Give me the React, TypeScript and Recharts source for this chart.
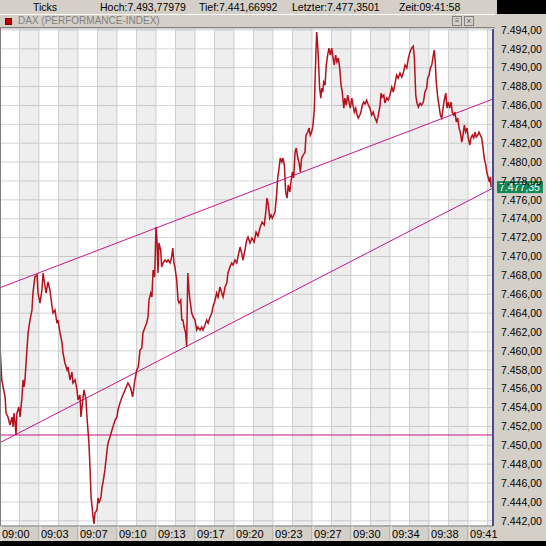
import { CartesianGrid, Line, LineChart, ReferenceArea, ReferenceLine, XAxis, YAxis } from 'recharts';

// tick times in seconds after 09:00:00
const tickSeconds = [
  0, 9, 26, 31, 41, 51, 62, 67, 72, 77, 82, 87, 97, 103, 113, 118, 123, 128, 138, 144,
  154, 164, 169, 179, 190, 195, 205, 215, 221, 226, 236, 246, 256, 267, 272, 282, 292, 297, 308, 318,
  323, 333, 344, 349, 359, 369, 374, 385, 395, 400, 410, 415, 426, 431, 441, 446, 456, 462, 467, 477,
  482, 487, 497, 503, 508, 518, 523, 528, 538, 549, 554, 564, 574, 579, 590, 600, 605, 615, 626, 641,
  656, 670, 680, 692, 701, 709, 718, 727, 733, 744, 752, 759, 764, 773, 779, 785, 793, 800, 805, 810,
  815, 824, 829, 836, 846, 855, 862, 872, 880, 886, 892, 897, 906, 913, 918, 927, 932, 938, 944, 952,
  957, 963, 969, 974, 983, 990, 1000, 1009, 1015, 1026, 1034, 1041, 1051, 1060, 1067, 1077, 1086, 1092, 1103, 1111,
  1118, 1128, 1137, 1144, 1154, 1163, 1169, 1179, 1188, 1195, 1205, 1214, 1220, 1231, 1239, 1246, 1256, 1265, 1272, 1282,
  1292, 1303, 1313, 1323, 1333, 1344, 1355, 1363, 1369, 1376, 1383, 1390, 1396, 1404, 1410, 1417, 1424, 1431, 1437, 1445,
  1451, 1458, 1465, 1472, 1478, 1486, 1492, 1499, 1506, 1513, 1519, 1527, 1533, 1540, 1547, 1555, 1564, 1569, 1578, 1585,
  1591, 1598, 1605, 1612, 1615, 1620, 1624, 1629, 1634, 1639, 1645, 1650, 1655, 1660, 1667, 1673, 1680, 1687, 1694, 1701,
  1708, 1714, 1721, 1728, 1735, 1742, 1749, 1755, 1763, 1769, 1776, 1783, 1790, 1796, 1804, 1810, 1817, 1824, 1831, 1837,
  1845, 1851, 1858, 1865, 1872, 1880, 1889, 1897, 1906, 1914, 1923, 1932, 1940, 1949, 1954, 1960, 1968, 1974, 1983, 1991,
  2000, 2009, 2017, 2026, 2034, 2042, 2051, 2060, 2068, 2077, 2086, 2094, 2102, 2111, 2119, 2125, 2128, 2132, 2137, 2145,
  2154, 2162, 2171, 2179, 2188, 2193, 2200, 2207, 2214, 2222, 2227, 2232, 2237, 2245, 2251, 2258, 2265, 2272, 2278, 2286,
  2292, 2299, 2306, 2313, 2319, 2327, 2333, 2340, 2347, 2354, 2360, 2368, 2374, 2381, 2388, 2395, 2401, 2409, 2415, 2422,
  2429, 2436, 2442, 2450, 2456, 2463, 2470, 2477, 2483, 2491, 2497, 2504, 2510, 2515, 2518,
];

const tickPrices = [
  7460.62, 7456.92, 7455.12, 7453.42, 7453.0, 7452.15, 7453.0, 7451.94, 7453.42, 7452.47, 7451.09, 7453.42, 7454.06, 7453.0, 7455.12, 7456.92, 7456.18, 7456.92, 7460.09, 7461.9,
  7463.27, 7464.33, 7466.13, 7467.83, 7468.04, 7466.13, 7465.07, 7466.45, 7468.25, 7467.51, 7466.13, 7467.3, 7466.45, 7464.65, 7464.01, 7464.33, 7462.95, 7463.27, 7461.9, 7460.84,
  7459.78, 7458.72, 7457.98, 7458.29, 7456.92, 7457.77, 7456.6, 7456.92, 7455.86, 7454.8, 7455.33, 7453.0, 7455.12, 7455.86, 7454.8, 7453.0, 7450.25, 7447.39, 7444.53, 7442.41,
  7441.67, 7442.83, 7443.15, 7444.42, 7443.89, 7444.53, 7445.59, 7446.01, 7447.39, 7449.5, 7450.25, 7450.88, 7451.62, 7451.94, 7452.68, 7453.0, 7453.74, 7454.48, 7455.12, 7455.86,
  7456.6, 7456.07, 7455.12, 7456.92, 7457.98, 7458.29, 7460.09, 7460.31, 7461.9, 7462.53, 7462.95, 7463.59, 7465.39, 7466.13, 7465.71, 7468.57, 7467.83, 7473.12, 7471.74, 7468.25,
  7471.43, 7470.68, 7468.88, 7469.31, 7469.63, 7469.41, 7469.63, 7469.31, 7469.94, 7470.9, 7469.31, 7468.88, 7467.51, 7465.39, 7465.07, 7465.39, 7463.27, 7463.27, 7462.53, 7461.9,
  7460.41, 7468.25, 7466.45, 7465.39, 7464.01, 7463.59, 7463.27, 7462.21, 7462.53, 7462.21, 7462.53, 7462.21, 7462.74, 7463.27, 7462.95, 7463.59, 7464.01, 7464.65, 7465.39, 7466.13,
  7465.71, 7466.77, 7466.13, 7465.71, 7466.77, 7467.19, 7468.25, 7468.88, 7469.31, 7469.1, 7469.63, 7469.31, 7469.94, 7471.0, 7470.37, 7469.63, 7470.68, 7471.74, 7472.06, 7471.43,
  7471.96, 7471.53, 7472.59, 7472.17, 7473.01, 7473.65, 7473.33, 7474.71, 7476.19, 7475.45, 7474.07, 7474.39, 7474.07, 7474.39, 7474.71, 7476.19, 7478.31, 7479.37, 7480.43, 7480.0,
  7480.43, 7479.69, 7476.83, 7476.19, 7477.57, 7476.83, 7477.89, 7478.95, 7478.31, 7481.06, 7481.49, 7480.43, 7480.0, 7478.95, 7480.43, 7480.75, 7481.06, 7482.86, 7483.18, 7483.6,
  7482.86, 7483.18, 7483.92, 7485.72, 7488.16, 7491.65, 7493.78, 7492.39, 7490.28, 7487.84, 7486.78, 7487.84, 7487.42, 7488.48, 7488.16, 7490.28, 7491.34, 7492.08, 7491.34, 7492.08,
  7491.02, 7490.28, 7491.34, 7490.59, 7491.02, 7489.96, 7488.16, 7487.42, 7485.72, 7486.78, 7486.04, 7487.1, 7486.36, 7485.72, 7486.78, 7486.04, 7485.3, 7485.72, 7484.98, 7484.66,
  7484.98, 7485.3, 7486.04, 7486.36, 7486.15, 7486.57, 7486.04, 7485.72, 7484.98, 7485.3, 7484.66, 7484.24, 7484.98, 7486.04, 7487.31, 7486.89, 7487.1, 7486.25, 7486.78, 7486.57,
  7487.1, 7487.95, 7487.42, 7488.37, 7489.22, 7488.9, 7489.43, 7489.01, 7489.43, 7490.28, 7489.96, 7491.02, 7491.65, 7492.08, 7492.29, 7491.02, 7489.22, 7487.1, 7486.36, 7485.83,
  7486.25, 7486.04, 7486.36, 7487.42, 7487.84, 7488.9, 7489.22, 7489.96, 7490.28, 7491.34, 7491.86, 7490.59, 7488.48, 7486.78, 7486.04, 7484.98, 7484.66, 7485.72, 7486.57, 7487.31,
  7485.72, 7486.36, 7485.72, 7486.36, 7485.3, 7484.98, 7485.3, 7484.24, 7484.66, 7483.6, 7483.18, 7482.12, 7482.86, 7483.92, 7483.18, 7483.6, 7482.55, 7481.8, 7482.55, 7482.86,
  7482.55, 7483.18, 7482.65, 7482.86, 7483.18, 7482.86, 7482.55, 7481.49, 7480.43, 7479.69, 7478.84, 7478.31, 7477.89, 7478.42, 7477.35,
];

const timeLabels = ['09:00', '09:03', '09:07', '09:10', '09:13', '09:17', '09:20', '09:23', '09:27', '09:30', '09:34', '09:38', '09:41'];
const labelStep = 200;
const gridStep = 100;
const xMax = 2528;

const yTicks = Array.from({ length: 27 }, (_, i) => 7442 + i * 2);
const yDomain: [number, number] = [7441.45, 7494.1];

// trend lines drawn on the chart
const channelX = [0, xMax];
const upperChannel = [7466.69, 7486.68];
const lowerChannel = [7450.28, 7477.25];
const supportLevel = 7451.09;
const lastPrice = 7477.35;

const data = tickSeconds.map((t, i) => ({ t, price: tickPrices[i] }));
const xTicks = Array.from({ length: Math.floor(xMax / gridStep) + 1 }, (_, i) => i * gridStep);
const bands = timeLabels.map((_, i) => [i * labelStep + gridStep, Math.min((i + 1) * labelStep, xMax)]).filter(([a, b]) => a < b);

const FONT = '"Liberation Sans", Arial, sans-serif';

function fmtDe(v: number) {
  const [a, b] = v.toFixed(2).split('.');
  return a.replace(/\B(?=(\d{3})+(?!\d))/g, '.') + ',' + b;
}

function TimeTick({ x, y, payload }: any) {
  const v = payload.value;
  if (v % labelStep !== 0) return <g />;
  return (
    <g>
      <line x1={x} x2={x} y1={y} y2={y + 15} stroke="#9a9a9a" />
      <line x1={x + 1} x2={x + 1} y1={y} y2={y + 15} stroke="#f4f4f4" />
      <text x={x + 2} y={y + 12} fontSize={11} fontFamily={FONT} fill="#000">
        {timeLabels[v / labelStep]}
      </text>
    </g>
  );
}

function PriceTag({ viewBox }: any) {
  if (!viewBox) return null;
  const x = viewBox.x + viewBox.width + 4;
  return (
    <g>
      <rect x={x} y={viewBox.y - 6} width={46} height={12} fill="#15885a" />
      <text x={x + 2} y={viewBox.y + 4} fontSize={10.5} fontFamily={FONT} fill="#fff">
        {fmtDe(lastPrice)}
      </text>
    </g>
  );
}

export default function App() {
  return (
    <div style={{ position: 'relative', width: 546, height: 546, background: '#000', overflow: 'hidden', fontFamily: FONT }}>
      <style>{'body{margin:0}'}</style>

      <div style={{ position: 'absolute', left: 0, top: 0, width: 497, height: 14, background: '#d4d0c8', fontSize: 10.5, lineHeight: '14px', color: '#000' }}>
        <span style={{ position: 'absolute', left: 33 }}>Ticks</span>
        <span style={{ position: 'absolute', left: 100 }}>Hoch:7.493,77979</span>
        <span style={{ position: 'absolute', left: 199 }}>Tief:7.441,66992</span>
        <span style={{ position: 'absolute', left: 292 }}>Letzter:7.477,3501</span>
        <span style={{ position: 'absolute', left: 399 }}>Zeit:09:41:58</span>
      </div>

      <div style={{ position: 'absolute', left: 0, top: 14, width: 546, height: 527, background: '#d4d0c8' }}>
        <LineChart width={546} height={527} data={data} margin={{ top: 15, right: 0, bottom: 0, left: 0 }}>
          <CartesianGrid stroke="#d6d6d6" fill="#ffffff" fillOpacity={1} />
          {bands.map(([a, b]) => (
            <ReferenceArea key={a} x1={a} x2={b} fill="#000" fillOpacity={0.065} stroke="none" />
          ))}
          <XAxis
            dataKey="t"
            type="number"
            domain={[0, xMax]}
            allowDataOverflow
            ticks={xTicks}
            interval={0}
            height={15}
            tickSize={0}
            tickMargin={0}
            tickLine={false}
            axisLine={{ stroke: '#808080' }}
            tick={<TimeTick />}
          />
          <YAxis
            orientation="right"
            type="number"
            domain={yDomain}
            allowDataOverflow
            ticks={yTicks}
            interval={0}
            width={53}
            tickLine={false}
            axisLine={{ stroke: '#4a4a8c', strokeWidth: 2 }}
            tickFormatter={(v) => fmtDe(Number(v))}
            tick={{ fill: '#000', fontSize: 10.5, fontFamily: FONT }}
          />
          <ReferenceLine y={supportLevel} stroke="#c71585" strokeWidth={1} />
          <ReferenceLine
            segment={[{ x: channelX[0], y: upperChannel[0] }, { x: channelX[1], y: upperChannel[1] }]}
            stroke="#c71585"
            strokeWidth={1}
          />
          <ReferenceLine
            segment={[{ x: channelX[0], y: lowerChannel[0] }, { x: channelX[1], y: lowerChannel[1] }]}
            stroke="#c71585"
            strokeWidth={1}
          />
          <Line
            type="linear"
            dataKey="price"
            stroke="#b5101c"
            strokeWidth={1.5}
            dot={false}
            isAnimationActive={false}
          />
          <ReferenceLine y={lastPrice} stroke="none" label={<PriceTag />} />
        </LineChart>
      </div>

      <div style={{ position: 'absolute', left: 0, top: 14, width: 495, height: 14, background: '#d4d0c8', borderTop: '1px solid #fff', borderBottom: '1px solid #808080', boxSizing: 'border-box' }}>
        <div style={{ position: 'absolute', left: 5, top: 3, width: 7, height: 7, background: '#c00000', border: '1px solid #800000', boxSizing: 'border-box' }} />
        <span style={{ position: 'absolute', left: 18, top: 0, fontSize: 10, lineHeight: '12px', color: '#808080' }}>DAX (PERFORMANCE-INDEX)</span>
        <div style={{ position: 'absolute', left: 452, top: 1, width: 10, height: 10, border: '1px solid #808080', boxSizing: 'border-box', fontSize: 8, lineHeight: '8px', textAlign: 'center', color: '#606060' }}>≡</div>
        <div style={{ position: 'absolute', left: 464, top: 1, width: 10, height: 10, border: '1px solid #808080', boxSizing: 'border-box', fontSize: 9, lineHeight: '8px', textAlign: 'center', color: '#606060' }}>×</div>
      </div>
      <div style={{ position: 'absolute', left: 0, top: 28, width: 1, height: 498, background: '#808080' }} />
    </div>
  );
}
